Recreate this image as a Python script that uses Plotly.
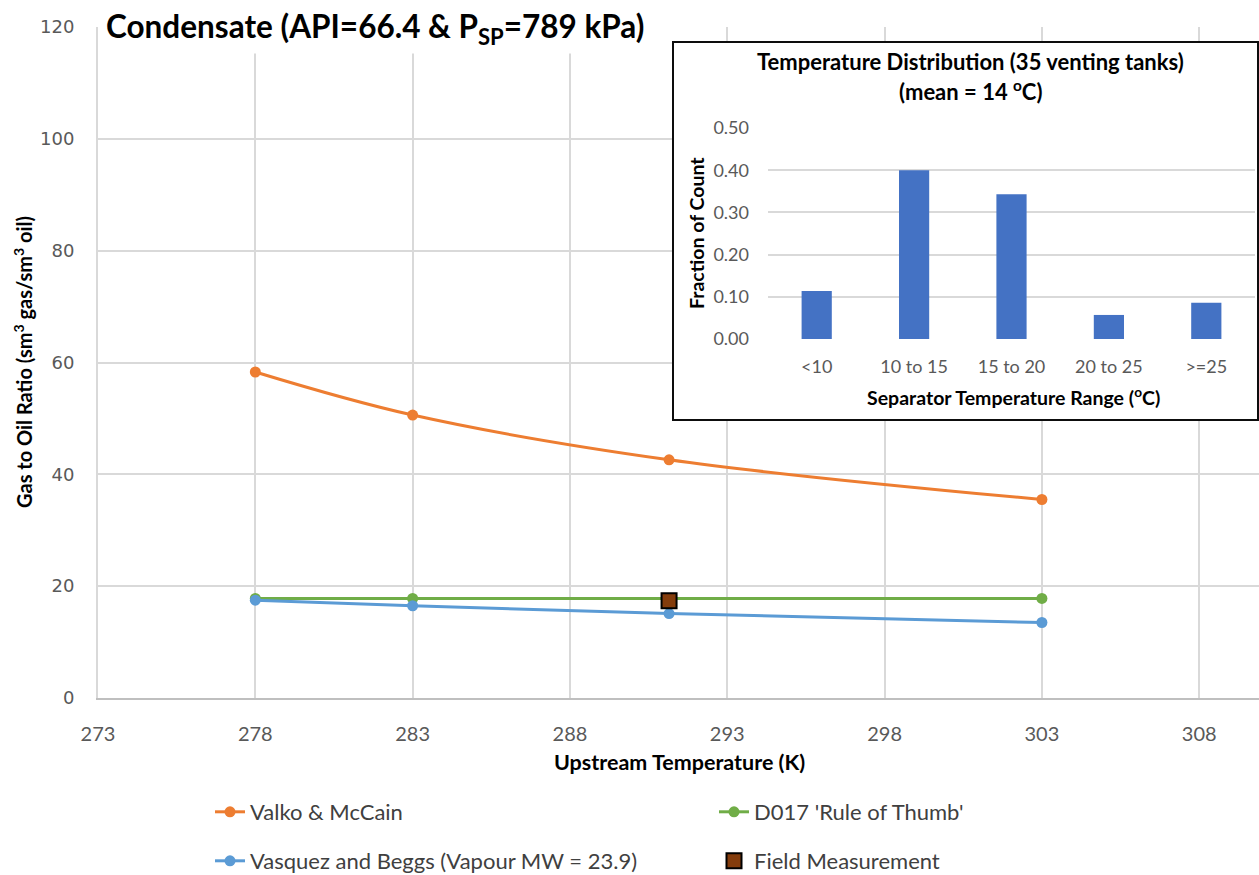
import plotly.graph_objects as go

W, H = 1259, 875

# Main chart series: gas to oil ratio vs upstream temperature
temps_k = [278, 283, 291.15, 303]
valko_mccain = [58.3, 50.6, 42.6, 35.5]
d017_rule = [17.8, 17.8, 17.8, 17.8]
vasquez_beggs = [17.5, 16.5, 15.1, 13.5]
field_temp_k = [291.15]
field_gor = [17.4]

# Inset histogram: separator temperature distribution of venting tanks
temp_ranges = ["<10", "10 to 15", "15 to 20", "20 to 25", ">=25"]
tank_fraction = [0.114, 0.400, 0.343, 0.057, 0.086]

x_ticks = [273, 278, 283, 288, 293, 298, 303, 308]
y_ticks = [0, 20, 40, 60, 80, 100, 120]
inset_y_ticks = [0.0, 0.1, 0.2, 0.3, 0.4, 0.5]

ORANGE = "#ED7D31"
GREEN = "#70AD47"
BLUE = "#5B9BD5"
BAR = "#4472C4"
GRID = "#D9D9D9"
TICK = "#595959"
FONT = "Lato"


def px(x):
    return x / W


def py(y):
    return 1 - y / H


fig = go.Figure()

fig.add_trace(go.Scatter(
    x=temps_k, y=d017_rule, name="D017 'Rule of Thumb'",
    mode="lines+markers", line=dict(color=GREEN, width=3, shape="spline"),
    marker=dict(size=11, color=GREEN), legend="legend", legendrank=2,
    xaxis="x", yaxis="y"))
fig.add_trace(go.Scatter(
    x=temps_k, y=vasquez_beggs, name="Vasquez and Beggs (Vapour MW = 23.9)",
    mode="lines+markers", line=dict(color=BLUE, width=3, shape="spline"),
    marker=dict(size=11, color=BLUE), legend="legend2", legendrank=1,
    xaxis="x", yaxis="y"))
fig.add_trace(go.Scatter(
    x=temps_k, y=valko_mccain, name="Valko & McCain",
    mode="lines+markers", line=dict(color=ORANGE, width=3, shape="spline"),
    marker=dict(size=11, color=ORANGE), legend="legend", legendrank=1,
    xaxis="x", yaxis="y"))
fig.add_trace(go.Scatter(
    x=field_temp_k, y=field_gor, name="Field Measurement",
    mode="markers",
    marker=dict(symbol="square", size=15, color="#843C0C",
                line=dict(color="#000000", width=2)),
    legend="legend2", legendrank=2, xaxis="x", yaxis="y"))

# White backing panel for the inset
fig.add_trace(go.Scatter(
    x=[0], y=[0], mode="markers", marker=dict(opacity=0),
    showlegend=False, hoverinfo="skip", xaxis="x2", yaxis="y2"))

fig.add_trace(go.Bar(
    x=temp_ranges, y=tank_fraction, marker=dict(color=BAR, line=dict(width=0)),
    showlegend=False, xaxis="x3", yaxis="y3"))

legend_style = dict(
    orientation="h", xanchor="left", yanchor="middle",
    bgcolor="rgba(0,0,0,0)", entrywidth=459, entrywidthmode="pixels",
    font=dict(family=FONT, size=22, color="#404040"))

fig.update_layout(
    template="none",
    width=W, height=H,
    margin=dict(l=0, r=0, t=0, b=0, autoexpand=False),
    paper_bgcolor="white", plot_bgcolor="white",
    font=dict(family=FONT, color=TICK),
    bargap=0.69,
    xaxis=dict(
        domain=[px(98), 1.0], range=[273, 309.9], anchor="y",
        tickvals=x_ticks, showgrid=True, gridcolor=GRID, gridwidth=2,
        zeroline=False, showline=True, linecolor="#BFBFBF", linewidth=2,
        ticks="", tickfont=dict(family=FONT, size=20, color=TICK),
        ticklabelstandoff=17, automargin=False),
    yaxis=dict(
        domain=[py(698), py(27)], range=[0, 120], anchor="x",
        tickvals=y_ticks, showgrid=True, gridcolor=GRID, gridwidth=2,
        zeroline=False, showline=True, linecolor=GRID, linewidth=2,
        ticks="", tickfont=dict(family="DejaVu Sans", size=18, color=TICK),
        ticklabelstandoff=18, automargin=False),
    xaxis2=dict(
        domain=[px(673), px(1258)], range=[0, 1], anchor="y2",
        showgrid=False, zeroline=False, showline=False, ticks="",
        showticklabels=False, automargin=False, fixedrange=True),
    yaxis2=dict(
        domain=[py(420), py(42)], range=[0, 1], anchor="x2",
        showgrid=False, zeroline=False, showline=False, ticks="",
        showticklabels=False, automargin=False, fixedrange=True),
    xaxis3=dict(
        domain=[px(768), px(1255)], anchor="y3", type="category",
        showgrid=False, zeroline=False, showline=False, ticks="",
        tickfont=dict(family=FONT, size=18, color=TICK),
        ticklabelstandoff=15, automargin=False),
    yaxis3=dict(
        domain=[py(339), py(128)], range=[0, 0.5], anchor="x3",
        tickvals=inset_y_ticks, tickformat=".2f",
        showgrid=True, gridcolor=GRID, gridwidth=1.5, zeroline=False,
        showline=False, ticks="",
        tickfont=dict(family=FONT, size=18, color=TICK),
        ticklabelstandoff=18, automargin=False),
    legend=dict(x=px(210), y=py(812), **legend_style),
    legend2=dict(x=px(210), y=py(861), **legend_style),
)

# Inset frame
fig.add_shape(type="rect", xref="paper", yref="paper",
              x0=px(673), x1=px(1258), y0=py(420), y1=py(42),
              line=dict(color="#0D0D0D", width=2), fillcolor="rgba(0,0,0,0)",
              layer="above")

annotations = [
    dict(text="<b>Condensate (API=66.4 &amp; P<sub>SP</sub>=789 kPa)</b>",
         x=px(102), y=py(28), xanchor="left", yanchor="middle",
         font=dict(family=FONT, size=31.5, color="#000000"),
         bgcolor="white", borderpad=3),
    dict(text="<b>Gas to Oil Ratio (sm<sup>3</sup> gas/sm<sup>3</sup> oil)</b>",
         x=px(23), y=py(362), xanchor="center", yanchor="middle", textangle=-90,
         font=dict(family=FONT, size=20, color="#000000")),
    dict(text="<b>Upstream Temperature (K)</b>",
         x=px(679), y=py(762), xanchor="center", yanchor="middle",
         font=dict(family=FONT, size=21.5, color="#000000")),
    dict(text="<b>Temperature Distribution (35 venting tanks)</b>",
         x=px(970), y=py(61), xanchor="center", yanchor="middle",
         font=dict(family=FONT, size=22, color="#000000")),
    dict(text="<b>(mean = 14 <sup>o</sup>C)</b>",
         x=px(970), y=py(91), xanchor="center", yanchor="middle",
         font=dict(family=FONT, size=22, color="#000000")),
    dict(text="<b>Fraction of Count</b>",
         x=px(697), y=py(233), xanchor="center", yanchor="middle", textangle=-90,
         font=dict(family=FONT, size=19.5, color="#000000")),
    dict(text="<b>Separator Temperature Range (<sup>o</sup>C)</b>",
         x=px(1013), y=py(396), xanchor="center", yanchor="middle",
         font=dict(family=FONT, size=19.5, color="#000000")),
]
for a in annotations:
    fig.add_annotation(xref="paper", yref="paper", showarrow=False, **a)

fig.write_html("out.html")
